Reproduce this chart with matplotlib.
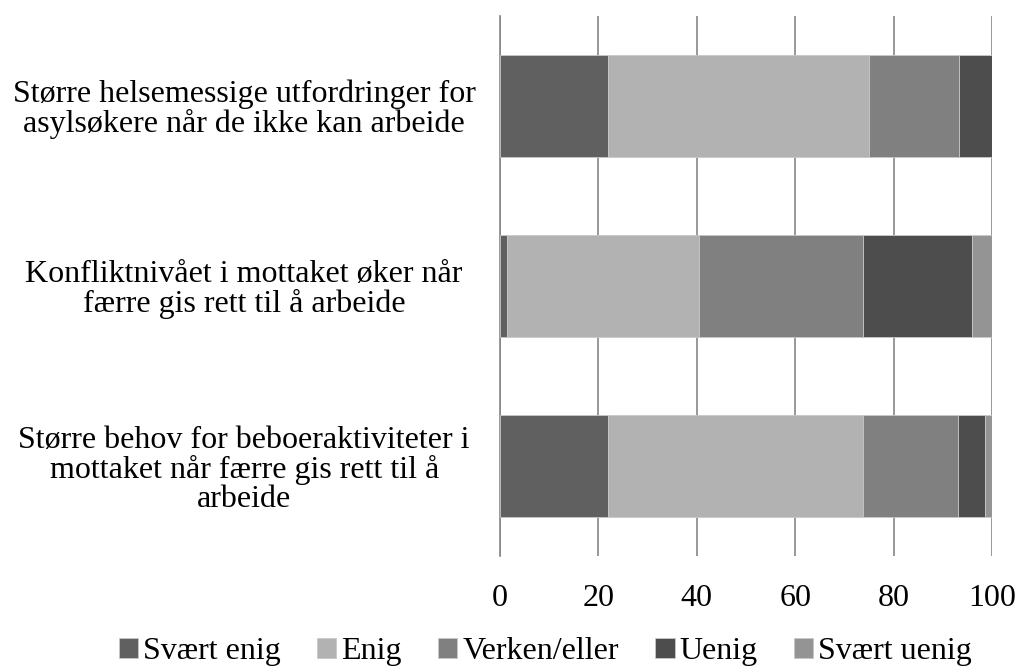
import matplotlib.pyplot as plt
import numpy as np

plt.rcParams['font.family'] = ['Liberation Serif', 'DejaVu Serif']

# Categories (top to bottom as shown)
categories = [
    "Større helsemessige utfordringer for\nasylsøkere når de ikke kan arbeide",
    "Konfliktnivået i mottaket øker når\nfærre gis rett til å arbeide",
    "Større behov for beboeraktiviteter i\nmottaket når færre gis rett til å\narbeide",
]
series = ["Svært enig", "Enig", "Verken/eller", "Uenig", "Svært uenig"]
svaert_enig = [22.0, 1.4, 22.0]
enig = [53.0, 39.1, 51.7]
verken = [18.2, 33.2, 19.3]
uenig = [6.8, 22.2, 5.6]
svaert_uenig = [0.0, 4.1, 1.4]
colors = ['#606060', '#b2b2b2', '#808080', '#4d4d4d', '#949494']

fig = plt.figure(figsize=(10.25, 6.71), dpi=100)
ax = fig.add_axes([500 / 1025, 1 - 556 / 671, 492 / 1025, 540 / 671])

ys = np.arange(len(categories))[::-1]
left = np.zeros(len(categories))
for name, vals, c in zip(series, [svaert_enig, enig, verken, uenig, svaert_uenig], colors):
    ax.barh(ys, vals, left=left, height=0.57, color=c, label=name,
            edgecolor='#c8c8c8', linewidth=0.6, zorder=3)
    left += np.array(vals)

ax.set_xlim(0, 100)
ax.set_ylim(-0.5, 2.5)
ax.set_xticks(range(0, 101, 20))
ax.set_yticks([])
ax.tick_params(axis='x', length=0, labelsize=23, pad=20)
ax.grid(axis='x', color='#868686', linewidth=1.2, zorder=0)
for s in ['top', 'right', 'bottom']:
    ax.spines[s].set_visible(False)
ax.spines['left'].set_color('#868686')
ax.spines['left'].set_linewidth(1.2)

# category labels, centred in the left margin
for y, label in zip(ys, categories):
    ax.text(-52, y - 0.02, label, fontsize=23, ha='center', va='center',
            multialignment='center', linespacing=1.0)

fig.legend(loc='lower center', bbox_to_anchor=(0.532, -0.036), ncol=5, frameon=False,
           fontsize=23, handlelength=0.6, handleheight=0.6, handletextpad=0.15,
           columnspacing=1.15)

fig.savefig("out.png", dpi=100)
